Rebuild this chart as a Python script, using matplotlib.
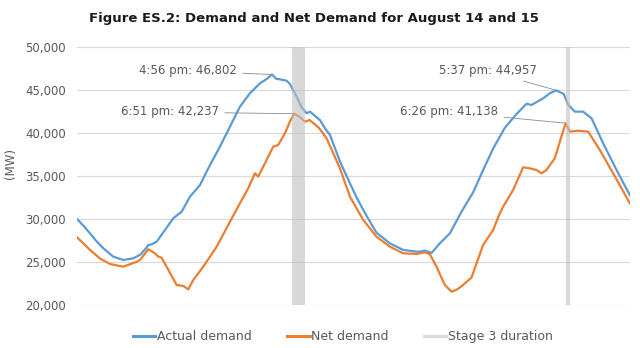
import matplotlib
matplotlib.use("Agg")
import matplotlib.pyplot as plt
from matplotlib.lines import Line2D

# hours from midnight Aug 14 (0-48) and MW
actual_hours = [0.0, 0.6, 1.13, 1.7, 2.29, 3.15, 4.02, 4.89, 5.5, 6.0, 6.19, 6.5, 6.92,
                7.64, 8.36, 9.09, 9.81, 10.68, 11.4, 12.41, 13.28, 14.15, 15.02, 15.89,
                16.5, 16.93, 17.3, 17.62, 18.2, 18.49, 19.07, 19.5, 19.94, 20.23, 21.09,
                21.6, 21.96, 22.83, 23.7, 24.28, 24.86, 25.43, 26.01, 27.17, 28.33, 29.49,
                29.77, 30.21, 30.79, 31.51, 32.38, 33.39, 34.4, 35.27, 36.14, 37.15, 38.17,
                39.03, 39.47, 40.48, 41.06, 41.62, 42.27, 42.65, 43.23, 43.95, 44.68,
                45.69, 46.85, 48.0]
actual_mw = [30000, 29150, 28330, 27400, 26590, 25620, 25230, 25430, 25850, 26600, 26980,
             27050, 27360, 28720, 30080, 30850, 32590, 33950, 35890, 38410, 40730, 43060,
             44620, 45780, 46300, 46802, 46300, 46240, 46080, 45700, 44220, 43000, 42290,
             42480, 41510, 40400, 39800, 36700, 34150, 32500, 31050, 29700, 28400, 27170,
             26400, 26200, 26200, 26320, 26050, 27170, 28330, 30850, 33100, 35700, 38200,
             40600, 42200, 43400, 43260, 44030, 44620, 44957, 44530, 43300, 42480, 42480,
             41710, 38800, 35700, 32790]

net_hours = [0.0, 0.6, 1.13, 2.0, 2.86, 4.02, 5.18, 5.47, 6.19, 6.77, 7.06, 7.35, 7.78,
             8.65, 9.23, 9.66, 10.1, 10.96, 12.13, 13.13, 14.15, 14.87, 15.45, 15.74,
             16.32, 17.04, 17.47, 18.06, 18.49, 18.85, 19.3, 19.79, 20.2, 21.0, 21.67,
             22.83, 23.7, 24.86, 26.01, 27.17, 28.33, 29.49, 30.21, 30.64, 31.22, 31.94,
             32.52, 33.0, 33.53, 34.26, 35.27, 36.14, 36.6, 37.0, 37.87, 38.74, 39.32,
             39.9, 40.34, 40.77, 41.49, 42.0, 42.43, 42.8, 43.52, 44.39, 45.4, 46.56, 48.0]
net_mw = [27870, 27100, 26400, 25400, 24770, 24450, 25030, 25230, 26480, 26010, 25620,
          25500, 24450, 22330, 22210, 21820, 22910, 24450, 26780, 29300, 31830, 33570,
          35310, 34920, 36480, 38410, 38600, 39970, 41320, 42237, 41900, 41320, 41510,
          40600, 39400, 35900, 32590, 29880, 27940, 26780, 26010, 25930, 26130, 25900,
          24450, 22330, 21550, 21800, 22330, 23200, 27000, 28720, 30300, 31430, 33370,
          36010, 35890, 35700, 35310, 35700, 37060, 39300, 41138, 40150, 40270, 40150,
          38020, 35310, 31830]

stage3_start = [18.63, 42.47]
stage3_end = [19.8, 42.8]

peak_labels = ["4:56 pm: 46,802", "6:51 pm: 42,237", "5:37 pm: 44,957", "6:26 pm: 41,138"]
peak_points = [(16.93, 46802), (18.85, 42237), (41.62, 44957), (42.43, 41138)]
label_spots = [(13.9, 47210), (12.35, 42440), (39.95, 47210), (36.6, 42440)]

blue = "#5B9BD5"
orange = "#ED7D31"
gray_txt = "#595959"

fig = plt.figure(figsize=(6.4, 3.48), dpi=100)
ax = fig.add_axes([0.1203, 0.1236, 0.8637, 0.7414])

ax.plot(actual_hours, actual_mw, color=blue, lw=1.6, zorder=2)
ax.plot(net_hours, net_mw, color=orange, lw=1.6, zorder=2)
for s, e in zip(stage3_start, stage3_end):
    ax.axvspan(s, e, color="#bfbfbf", alpha=0.6, lw=0, zorder=3)

for txt, pt, spot in zip(peak_labels, peak_points, label_spots):
    ax.annotate(txt, xy=pt, xytext=spot, ha="right", va="center", fontsize=8.5,
                color=gray_txt, zorder=4,
                arrowprops=dict(arrowstyle="-", color="#8c8c8c", lw=0.6,
                                shrinkA=2, shrinkB=0))

ax.set_xlim(0, 48)
ax.set_ylim(20000, 50000)
ax.set_yticks(range(20000, 50001, 5000))
ax.set_yticklabels([f"{v:,}" for v in range(20000, 50001, 5000)])
ax.set_xticks([])
ax.tick_params(axis="y", length=0, pad=8, labelsize=8.5, labelcolor=gray_txt)
ax.grid(axis="y", color="#d9d9d9", lw=0.8)
ax.set_axisbelow(True)
for sp in ax.spines.values():
    sp.set_visible(False)

fig.text(0.016, 0.53, "(MW)", rotation=90, ha="center", va="center",
         fontsize=8.5, color=gray_txt)
fig.text(0.49, 0.948, "Figure ES.2: Demand and Net Demand for August 14 and 15",
         ha="center", va="center", fontsize=9.5, fontweight="bold", color="#1a1a1a")

handles = [Line2D([], [], color=blue, lw=2.2),
           Line2D([], [], color=orange, lw=2.2),
           Line2D([], [], color="#d9d9d9", lw=2.2)]
fig.legend(handles, ["Actual demand", "Net demand", "Stage 3 duration"],
           loc="center", bbox_to_anchor=(0.536, 0.032), ncol=3, frameon=False,
           fontsize=9, handlelength=1.8, handletextpad=0.15, columnspacing=2.8,
           labelcolor=gray_txt)

fig.savefig("out.png", dpi=100)
